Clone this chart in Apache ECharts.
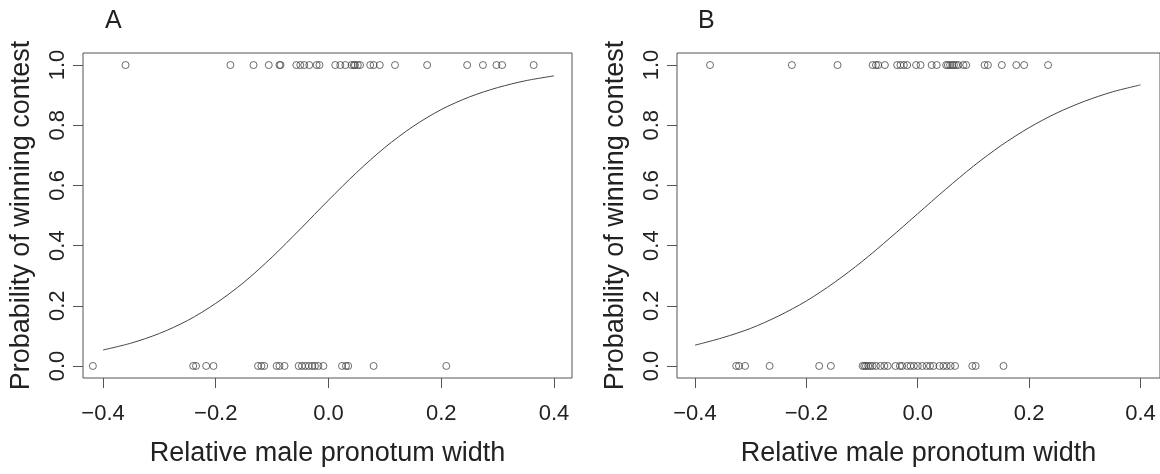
<!DOCTYPE html>
<html><head><meta charset="utf-8">
<script src="https://cdn.jsdelivr.net/npm/echarts@6/dist/echarts.min.js"></script>
<style>html,body{margin:0;padding:0;background:#fff}#c{width:1160px;height:474px}</style>
</head><body><div id="c"></div>
<script>
// Panel A observations (relative pronotum width)
const winsA = [-0.360,-0.174,-0.133,-0.106,-0.087,-0.085,-0.057,-0.050,-0.043,-0.034,-0.021,-0.016,0.012,0.021,0.030,0.041,0.045,0.047,0.052,0.056,0.074,0.080,0.091,0.118,0.175,0.246,0.274,0.298,0.308,0.364];
const lossesA = [-0.418,-0.240,-0.235,-0.217,-0.204,-0.125,-0.119,-0.114,-0.092,-0.087,-0.078,-0.053,-0.047,-0.041,-0.035,-0.029,-0.024,-0.018,-0.009,0.024,0.031,0.035,0.080,0.209];
// Panel B observations
const winsB = [-0.373,-0.226,-0.144,-0.081,-0.075,-0.071,-0.059,-0.037,-0.031,-0.025,-0.019,-0.003,0.005,0.025,0.034,0.051,0.054,0.058,0.062,0.065,0.069,0.073,0.082,0.087,0.120,0.126,0.151,0.177,0.191,0.234];
const lossesB = [-0.326,-0.321,-0.310,-0.266,-0.177,-0.156,-0.099,-0.096,-0.093,-0.089,-0.085,-0.081,-0.075,-0.067,-0.060,-0.054,-0.040,-0.032,-0.028,-0.019,-0.013,-0.007,0.000,0.008,0.016,0.022,0.028,0.039,0.046,0.052,0.059,0.067,0.098,0.104,0.154];
// Fitted curves
const curveX = [-0.40,-0.35,-0.30,-0.25,-0.20,-0.15,-0.10,-0.05,0.00,0.05,0.10,0.15,0.20,0.25,0.30,0.35,0.40];
const curveA = [0.053,0.076,0.108,0.151,0.208,0.278,0.362,0.455,0.551,0.643,0.726,0.796,0.852,0.894,0.925,0.948,0.964];
const curveB = [0.069,0.094,0.125,0.166,0.216,0.277,0.347,0.425,0.506,0.587,0.664,0.733,0.792,0.841,0.880,0.911,0.934];
const xTicks = [-0.4,-0.2,0.0,0.2,0.4];
const yTicks = [0.0,0.2,0.4,0.6,0.8,1.0];
const xTitle = 'Relative male pronotum width';
const yTitle = 'Probability of winning contest';
const panels = ['A','B'];

const FONT = '"Liberation Sans", Arial, sans-serif';
const AX = '#555', TXT = '#222', PT = '#333';
const fmt = v => (v < 0 ? '\u2212' : '') + Math.abs(v).toFixed(1);

function xAxis(i, min, max) {
  return {type:'value', gridIndex:i, min, max,
    axisLine:{show:false, onZero:false}, splitLine:{show:false},
    axisTick:{show:true, customValues:xTicks, length:10, lineStyle:{color:AX,width:1}},
    axisLabel:{customValues:xTicks, formatter:fmt, margin:25, fontSize:22, color:TXT, fontFamily:FONT},
    name:xTitle, nameLocation:'middle', nameGap:62,
    nameTextStyle:{fontSize:27, color:TXT, fontFamily:FONT}};
}
function yAxis(i) {
  return {type:'value', gridIndex:i, min:-0.04, max:1.04,
    axisLine:{show:false, onZero:false}, splitLine:{show:false},
    axisTick:{show:true, customValues:yTicks, length:10, lineStyle:{color:AX,width:1}},
    axisLabel:{customValues:yTicks, formatter:v=>v.toFixed(1), rotate:90, margin:14, fontSize:22, color:TXT, fontFamily:FONT},
    name:yTitle, nameLocation:'middle', nameGap:48, nameRotate:90,
    nameTextStyle:{fontSize:27, color:TXT, fontFamily:FONT}};
}
function pts(arr, y) { return arr.map(x => [x, y]); }
function scatter(i, data) {
  return {type:'scatter', xAxisIndex:i, yAxisIndex:i, data, symbol:'circle', symbolSize:7,
    itemStyle:{color:'rgba(0,0,0,0)', borderColor:PT, borderWidth:0.9}, silent:true, animation:false, z:3};
}
function line(i, ys) {
  return {type:'line', xAxisIndex:i, yAxisIndex:i, data:curveX.map((x,k)=>[x, ys[k]]), smooth:0.3,
    showSymbol:false, lineStyle:{color:'#444', width:1}, silent:true, animation:false, z:2};
}

const chart = echarts.init(document.getElementById('c'), null, {renderer:'canvas'});
chart.setOption({
  backgroundColor:'#fff',
  animation:false,
  grid:[
    {left:83, top:53, width:489, height:325, show:true, borderColor:AX, borderWidth:1, backgroundColor:'transparent'},
    {left:677, top:53, width:489, height:325, show:true, borderColor:AX, borderWidth:1, backgroundColor:'transparent'}
  ],
  xAxis:[xAxis(0,-0.4355,0.432), xAxis(1,-0.4323,0.435)],
  yAxis:[yAxis(0), yAxis(1)],
  graphic:[
    {type:'text', left:105, top:9, style:{text:panels[0], fontSize:25, fill:TXT, fontFamily:FONT}},
    {type:'text', left:698, top:9, style:{text:panels[1], fontSize:25, fill:TXT, fontFamily:FONT}}
  ],
  series:[
    line(0, curveA), scatter(0, pts(winsA,1)), scatter(0, pts(lossesA,0)),
    line(1, curveB), scatter(1, pts(winsB,1)), scatter(1, pts(lossesB,0))
  ]
});
</script></body></html>
